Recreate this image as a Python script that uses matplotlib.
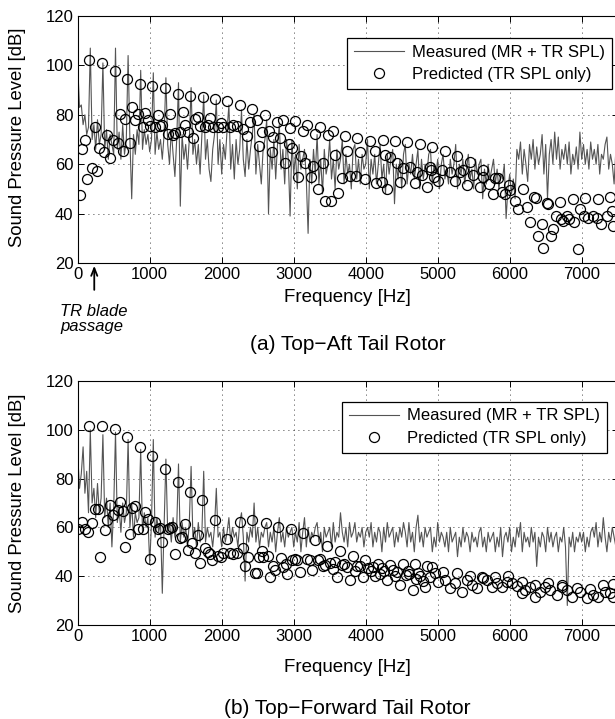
import numpy as np
import matplotlib
matplotlib.use("Agg")
import matplotlib.pyplot as plt

plt.rcParams['font.family'] = ['Liberation Sans', 'DejaVu Sans']

# measured spectra, one value every 25 Hz from 0 to 7500 Hz
freq = np.arange(0, 7501, 25)

spl_aft = [
    100, 83, 84, 76, 80, 72, 75,
    107, 70, 76, 66, 78, 68, 72,
    101, 66, 74, 62, 72, 68, 64,
    107, 66, 73, 62, 76, 64, 70,
    104, 70, 46, 72, 64, 74, 68,
    98, 66, 74, 68, 72, 65, 70,
    97, 64, 73, 66, 70, 62, 72,
    95, 68, 60, 74, 64, 55, 70,
    93, 43, 72, 62, 68, 58, 70,
    91, 64, 70, 60, 68, 56, 72,
    88, 62, 70, 58, 53, 66, 72,
    86, 60, 70, 56, 68, 62, 74,
    84, 58, 68, 54, 70, 60, 66,
    82, 62, 55, 70, 58, 66, 72,
    80, 56, 68, 60, 52, 66, 70,
    78, 40, 66, 58, 70, 54, 68,
    76, 58, 66, 52, 70, 62, 39,
    70, 56, 64, 50, 68, 58, 62,
    66, 54, 32, 62, 52, 66, 56,
    72, 52, 62, 48, 66, 56, 60,
    70, 54, 62, 50, 66, 58, 62,
    70, 52, 64, 56, 60, 50, 66,
    68, 54, 62, 52, 64, 58, 60,
    70, 50, 62, 56, 64, 52, 60,
    68, 54, 60, 48, 64, 56, 62,
    66, 44, 60, 54, 62, 50, 64,
    68, 52, 60, 56, 64, 54, 60,
    66, 50, 62, 54, 60, 56, 64,
    66, 52, 60, 56, 62, 50, 60,
    64, 54, 58, 52, 62, 56, 60,
    68, 50, 60, 56, 62, 52, 58,
    64, 54, 58, 50, 62, 56, 60,
    62, 46, 58, 52, 60, 54, 58,
    62, 52, 58, 50, 56, 54, 60,
    38, 50, 56, 48, 54, 46, 66,
    62, 69, 56, 66, 60, 53, 68,
    62, 70, 58, 67, 60, 64, 72,
    56, 68, 46, 64, 70, 60, 73,
    62, 71, 58, 66, 62, 68, 60,
    69, 56, 64, 60, 67, 58, 73,
    62, 68, 60, 66, 58, 69, 62,
    66, 60, 68, 56, 64, 62, 68,
    71, 58, 64, 60, 52, 66, 62,
]

spl_fwd = [
    90, 76, 82, 93, 74, 83, 66,
    100, 70, 76, 64, 78, 66, 72,
    98, 64, 72, 60, 70, 52, 68,
    99, 62, 68, 58, 70, 62, 66,
    96, 60, 70, 56, 66, 62, 64,
    92, 58, 66, 60, 64, 45, 62,
    96, 56, 64, 58, 62, 33, 60,
    88, 58, 62, 54, 64, 56, 60,
    86, 54, 62, 56, 60, 52, 62,
    85, 56, 60, 52, 62, 54, 58,
    83, 54, 60, 56, 58, 52, 60,
    76, 56, 58, 52, 60, 54, 58,
    64, 54, 60, 56, 58, 52, 62,
    66, 56, 38, 58, 54, 60, 56,
    70, 54, 60, 52, 58, 56, 60,
    62, 52, 58, 54, 60, 50, 58,
    64, 54, 58, 52, 60, 56, 58,
    60, 52, 58, 54, 62, 50, 58,
    64, 52, 60, 54, 58, 56, 60,
    62, 54, 58, 50, 60, 56, 58,
    60, 52, 62, 54, 58, 56, 66,
    58, 54, 60, 52, 62, 56, 58,
    62, 54, 58, 56, 60, 52, 58,
    60, 56, 62, 52, 58, 54, 60,
    58, 50, 60, 54, 62, 56, 58,
    60, 52, 58, 54, 60, 56, 62,
    58, 52, 62, 54, 58, 50, 60,
    65, 54, 58, 52, 60, 56, 58,
    60, 50, 56, 52, 62, 54, 58,
    56, 52, 58, 50, 60, 54, 56,
    58, 48, 56, 52, 60, 54, 58,
    56, 50, 58, 54, 56, 52, 58,
    60, 52, 56, 50, 58, 54, 56,
    58, 50, 56, 52, 60, 48, 56,
    58, 54, 60, 50, 56, 52, 60,
    56, 62, 50, 58, 54, 56, 52,
    60, 54, 58, 44, 56, 52, 58,
    56, 50, 60, 54, 58, 52, 56,
    58, 50, 56, 54, 60, 52, 28,
    56, 52, 58, 50, 56, 54, 58,
    54, 58, 50, 56, 52, 58, 60,
    56, 62, 52, 58, 54, 64, 56,
    50, 58, 54, 60, 56, 52, 58,
]

# predicted tail rotor harmonics (frequency [Hz], level [dB])
pred_aft_f = [
    32, 64, 101, 133, 161, 203, 240, 272, 300, 342, 369, 411, 449, 486, 518,
    556, 588, 625, 657, 689, 726, 758, 796, 833, 865, 902, 936, 973, 1006, 1038,
    1075, 1113, 1145, 1177, 1215, 1252, 1285, 1317, 1355, 1392, 1425, 1457, 1494,
    1531, 1564, 1596, 1634, 1671, 1704, 1736, 1774, 1811, 1844, 1876, 1913,
    1944, 1986, 2022, 2069, 2115, 2161, 2208, 2254, 2300, 2347, 2393, 2425, 2486,
    2522, 2555, 2601, 2661, 2694, 2717, 2764, 2810, 2856, 2879, 2930, 2949, 2972,
    3018, 3060, 3095, 3133, 3157, 3180, 3236, 3265, 3296, 3333, 3365, 3403, 3435,
    3481, 3514, 3541, 3578, 3620, 3667, 3713, 3745, 3782, 3865, 3875, 3921, 3990,
    4060, 4129, 4143, 4222, 4236, 4268, 4300, 4338, 4407, 4431, 4476, 4523, 4578,
    4615, 4685, 4708, 4754, 4778, 4856, 4893, 4900, 4917, 4950, 5008, 5056, 5101,
    5171, 5240, 5272, 5310, 5356, 5411, 5449, 5495, 5588, 5625, 5634, 5717, 5764,
    5796, 5842, 5889, 5935, 5994, 6004, 6074, 6120, 6181, 6236, 6282, 6338, 6365,
    6398, 6444, 6467, 6514, 6537, 6570, 6606, 6643, 6699, 6710, 6745, 6792, 6828,
    6875, 6890, 6953, 6976, 7032, 7046, 7092, 7161, 7208, 7231, 7264, 7347, 7393,
    7417, 7440,
]
pred_aft_v = [
    47.5, 66, 69.8, 54, 102, 58.3, 75, 57.2, 66.7, 100.8, 65, 71.8, 62.5, 69.8, 97.9,
    68.5, 80.2, 65.5, 78.2, 94.5, 68.5, 83, 77.9, 80.2, 92.3, 75.2, 80.8, 77.9, 75.5, 91.7,
    74.9, 79.9, 75.5, 75.9, 91, 72.2, 80.2, 71.8, 72.5, 88.4, 73.2, 81.3, 75.9,
    73.2, 87.6, 70.5, 78.3, 79, 75.5, 87.1, 75.2, 75.9, 78.8, 74.9, 86.3,
    75.2, 76.6, 75, 85.7, 75.2, 75.9, 75.5, 84, 74.1, 71.4, 77.2, 82.2, 77.9,
    67.5, 73.2, 79.9, 73.3, 65.1, 71.2, 77.2, 70.8, 78, 60.5, 68, 74.6, 66.4,
    77.3, 55, 63.3, 73.3, 60.4, 75.8, 55, 59.3, 72.2, 50, 75.2, 60.4, 45.1,
    71.8, 45.1, 73.6, 63.7, 48.5, 54.3, 71.5, 65.3, 55.2, 55.2, 70.5, 65.1, 53.9,
    69.5, 65.5, 52.3, 52.9, 69.8, 63.7, 49.8, 63, 69.5, 60.4, 52.7, 58.3, 69.1,
    59, 52.3, 57, 68.2, 55.6, 50.9, 59, 57.6, 67.1, 55, 53.4, 57.6, 65.5,
    56.9, 53.4, 63.3, 56.9, 57.6, 51.5, 61, 55.6, 50.8, 57.6, 54.9, 51.8, 47.8,
    54.6, 54.6, 48.7, 47.8, 51.5, 49.4, 45.3, 41.8, 50.1, 42.6, 36.5, 46.7, 46.4,
    30.9, 35.9, 25.9, 44.3, 43.7, 30.9, 33.7, 39.2, 44.6, 37.9, 37.2, 39.2, 37.9,
    46, 36.5, 25.6, 41.7, 39, 46.4, 38.3, 39, 38.3, 46, 35.6, 39, 46.7,
    41.1, 35.1,
]

pred_fwd_f = [
    0, 64, 101, 139, 161, 203, 240, 278, 310, 342, 379, 411, 449, 486, 518,
    556, 588, 625, 657, 689, 726, 758, 796, 833, 865, 903, 935, 972, 1004, 1036,
    1074, 1111, 1143, 1175, 1213, 1250, 1282, 1314, 1351, 1389, 1421, 1453, 1490,
    1528, 1560, 1592, 1629, 1667, 1699, 1731, 1768, 1806, 1838, 1869, 1907,
    1944, 1986, 2022, 2069, 2115, 2161, 2208, 2254, 2300, 2324, 2369, 2417, 2463,
    2486, 2522, 2555, 2578, 2615, 2647, 2671, 2717, 2740, 2786, 2824, 2856, 2893,
    2911, 2958, 2972, 3018, 3042, 3088, 3133, 3180, 3226, 3250, 3296, 3342,
    3365, 3400, 3435, 3467, 3504, 3540, 3570, 3606, 3643, 3667, 3700, 3736, 3782,
    3819, 3850, 3875, 3920, 3967, 3990, 4036, 4070, 4106, 4129, 4167, 4200, 4222,
    4260, 4292, 4338, 4384, 4410, 4431, 4476, 4514, 4560, 4590, 4606, 4653, 4685,
    4700, 4731, 4760, 4790, 4824, 4856, 4893, 4917, 4963, 5009, 5078, 5101, 5171,
    5240, 5264, 5333, 5403, 5449, 5472, 5542, 5611, 5634, 5681, 5750, 5796, 5819,
    5889, 5958, 5981, 6028, 6097, 6167, 6167, 6213, 6282, 6351, 6351, 6421, 6490,
    6536, 6560, 6653, 6720, 6722, 6792, 6861, 6931, 6976, 7069, 7115, 7161, 7231,
    7300, 7324, 7393, 7440, 7440,
]
pred_fwd_v = [
    59.3, 62.1, 59.3, 58, 101.6, 61.7, 67.5, 67.5, 48, 101.6, 58.9, 63, 69.2, 65.1, 100.2,
    67.1, 70.5, 66.7, 52.1, 96.9, 57.2, 67.8, 68.9, 59.3, 93.1, 59.3, 66.4, 63.3, 46.9, 89.3,
    62.3, 59.3, 59.6, 54.2, 83.8, 59.3, 59.9, 60.3, 49, 78.5, 55.5, 56.2, 61.3,
    50.7, 74.6, 53.5, 49.4, 56.9, 45.3, 71.2, 51.7, 50.1, 49, 46.6, 63,
    48.4, 48, 49.4, 55.2, 49.4, 49, 49.4, 62.3, 51.4, 44.3, 48, 63, 41.2,
    41.2, 47.8, 50.5, 48, 61.7, 48.3, 39.8, 44.3, 42.5, 60.3, 47.4, 43.6, 45,
    40.8, 59.2, 46.6, 47.2, 46.6, 41.6, 57.6, 46.9, 46.6, 42.5, 55, 46.6,
    46.9, 44, 44.6, 52.4, 45.3, 43, 46, 39.8, 50.5, 44.6, 45, 43.9, 38.4,
    48.3, 42, 44.2, 44, 39.8, 46.6, 43.3, 42, 43.9, 40.1, 45, 41, 43.3,
    42, 38.4, 44.6, 42.5, 40, 41.8, 36.4, 45, 40.5, 42, 40.9, 34.3, 45,
    39, 41.2, 40, 38, 35.7, 44.2, 39.8, 43.9, 41.2, 37.8, 41.8, 38.4, 35,
    37.1, 41.2, 33.6, 38.4, 40.1, 36.4, 35, 39.8, 39.2, 38.4, 35.7, 39.8, 37.1,
    35.7, 37.8, 40.1, 37.1, 36, 37.8, 33, 34.3, 35.7, 36.4, 31.6, 33.6, 35.7,
    37.1, 34.3, 32.3, 36.5, 35.7, 34.3, 31.6, 35, 33.6, 30.9, 34.6, 32.3, 31.6,
    36.4, 33.6, 33, 36.8, 31.6,
]

W, H = 615, 719
fig = plt.figure(figsize=(W / 100, H / 100), dpi=100)


def px_axes(left, top, right, bottom):
    return fig.add_axes([left / W, 1 - bottom / H, (right - left) / W, (bottom - top) / H])


def draw_panel(ax, spl, pf, pv, legend_anchor):
    ax.plot(freq, spl, color='0.33', lw=0.8, label='Measured (MR + TR SPL)')
    ax.plot(pf, pv, 'o', mfc='none', mec='k', ms=7.2, mew=0.9,
            label='Predicted (TR SPL only)')
    ax.set_xlim(0, 7500)
    ax.set_ylim(20, 120)
    ax.set_xticks(range(0, 7001, 1000))
    ax.set_yticks(range(20, 121, 20))
    ax.grid(True, color='k', ls=(0, (1, 5)), lw=0.6)
    ax.tick_params(direction='in', top=True, right=True, length=4, width=0.7,
                   labelsize=12, pad=3)
    for s in ax.spines.values():
        s.set_linewidth(0.8)
    leg = ax.legend(loc='upper right', bbox_to_anchor=legend_anchor, borderaxespad=0,
                    fontsize=12, fancybox=False, framealpha=1, edgecolor='k',
                    handlelength=3.0, borderpad=0.4, labelspacing=0.45,
                    handletextpad=0.5)
    leg.get_frame().set_linewidth(0.9)


ax1 = px_axes(77.7, 16, 617.7, 263)
draw_panel(ax1, spl_aft, pred_aft_f, pred_aft_v, (0.989, 0.911))

ax2 = px_axes(77.7, 381, 617.7, 625)
draw_panel(ax2, spl_fwd, pred_fwd_f, pred_fwd_v, (0.98, 0.915))

xc = (77.7 + 617.7) / 2 / W
for yl, yx in [(137, 298), (503, 668)]:
    fig.text(18 / W, 1 - yl / H, 'Sound Pressure Level [dB]', rotation=90,
             ha='center', va='center', fontsize=13.3)
    fig.text(xc, 1 - yx / H, 'Frequency [Hz]', ha='center', va='center', fontsize=13.5)
fig.text(xc, 1 - 345 / H, '(a) Top\u2212Aft Tail Rotor', ha='center', va='center', fontsize=15)
fig.text(xc, 1 - 708 / H, '(b) Top\u2212Forward Tail Rotor', ha='center', va='center', fontsize=15)

# blade passage marker below the first panel
ax1.annotate('', xy=(230, 20), xytext=(230, 8.0), annotation_clip=False,
             arrowprops=dict(arrowstyle='->,head_length=0.55,head_width=0.22',
                             color='k', lw=1.3))
fig.text(60 / W, 1 - 311 / H, 'TR blade', style='italic', ha='left', va='center', fontsize=12)
fig.text(60 / W, 1 - 327 / H, 'passage', style='italic', ha='left', va='center', fontsize=12)

fig.savefig('out.png', dpi=100)
